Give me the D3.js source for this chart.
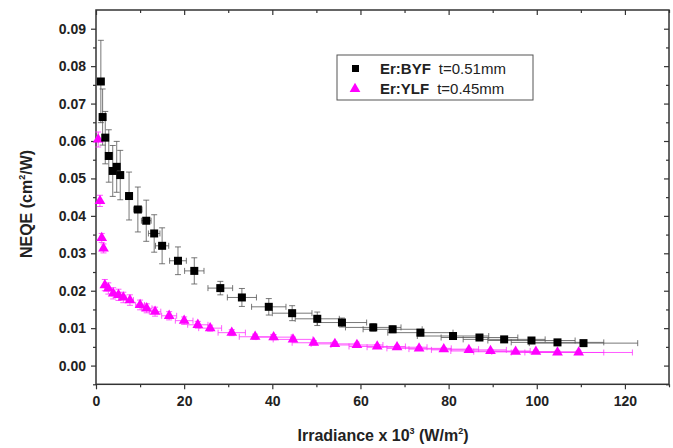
<!DOCTYPE html>
<html>
<head>
<meta charset="utf-8">
<script src="https://cdn.jsdelivr.net/npm/d3@7"></script>
<style>
body { margin: 0; background: #fff; }
svg { display: block; font-family: "Liberation Sans", Arial, sans-serif; }
</style>
</head>
<body>
<svg id="chart" width="673" height="448"></svg>
<script>
// Er:BYF t=0.51mm (black squares)
var byfX = [1.1, 1.5, 2.1, 2.9, 3.8, 4.7, 5.5, 7.5, 9.5, 11.4, 13.2, 15, 18.6, 22.3, 28.2, 33.1, 39.2, 44.5, 50.2, 55.8, 62.9, 67.3, 73.6, 81, 87, 92.6, 98.8, 104.7, 110.6];
var byfY = [0.0759, 0.0664, 0.0609, 0.056, 0.052, 0.0531, 0.0509, 0.0453, 0.0417, 0.0387, 0.0353, 0.032, 0.028, 0.0253, 0.0207, 0.0182, 0.0157, 0.014, 0.0125, 0.0115, 0.0102, 0.0097, 0.0088, 0.0079, 0.0075, 0.007, 0.0067, 0.0062, 0.006];
var byfXErr = [0.1, 0.15, 0.2, 0.3, 0.4, 0.5, 0.55, 0.75, 0.95, 1.1, 1.3, 1.5, 1.9, 2.2, 2.8, 3.3, 3.9, 4.5, 5, 5.6, 6.3, 6.7, 7.4, 8.1, 8.7, 9.3, 9.9, 10.5, 12.3];
var byfYErr = [0.011, 0.0075, 0.007, 0.007, 0.0068, 0.0068, 0.0066, 0.0064, 0.006, 0.0055, 0.005, 0.0048, 0.0037, 0.0035, 0.0018, 0.0024, 0.0022, 0.002, 0.0018, 0.0012, 0.001, 0.0009, 0.0008, 0.0007, 0.0007, 0.0006, 0.0006, 0.0005, 0.0005];

// Er:YLF t=0.45mm (magenta triangles)
var ylfX = [0.5, 0.9, 1.3, 1.7, 2.0, 2.8, 3.9, 5.1, 6.2, 7.7, 10, 11.5, 13.4, 16.6, 20, 23.1, 25.9, 30.8, 36.1, 40.3, 44.7, 49.4, 54.2, 59.2, 63.8, 68.3, 73.3, 78.9, 84.6, 89.5, 95.2, 99.8, 104.7, 109.5];
var ylfY = [0.0604, 0.044, 0.0341, 0.0313, 0.0215, 0.0206, 0.0193, 0.0189, 0.0182, 0.0175, 0.0162, 0.0153, 0.0144, 0.0133, 0.012, 0.0109, 0.01, 0.0088, 0.0077, 0.0076, 0.007, 0.0061, 0.0058, 0.0055, 0.0051, 0.0049, 0.0046, 0.0044, 0.0042, 0.0039, 0.0037, 0.0037, 0.0035, 0.0035];
var ylfXErr = [0.05, 0.1, 0.15, 0.2, 0.2, 0.3, 0.4, 0.5, 0.6, 0.8, 1, 1.2, 1.3, 1.7, 2, 2.3, 2.6, 3.1, 3.6, 4, 4.5, 4.9, 5.4, 5.9, 6.4, 6.8, 7.3, 7.9, 8.5, 9, 9.5, 10, 10.5, 12.2];
var ylfYErr = [0.002, 0.0015, 0.0012, 0.0012, 0.0015, 0.0015, 0.0015, 0.0015, 0.0014, 0.0014, 0.0013, 0.0012, 0.0012, 0.0011, 0.001, 0.0009, 0.0008, 0.0008, 0.0007, 0.0007, 0.0006, 0.0006, 0.0005, 0.0005, 0.0005, 0.0005, 0.0004, 0.0004, 0.0004, 0.0004, 0.0004, 0.0004, 0.0004, 0.0004];

var xMajor = [0, 20, 40, 60, 80, 100, 120];
var xMinor = [10, 30, 50, 70, 90, 110, 130];
var yMajor = [0, 0.01, 0.02, 0.03, 0.04, 0.05, 0.06, 0.07, 0.08, 0.09];
var yMinor = [-0.005, 0.005, 0.015, 0.025, 0.035, 0.045, 0.055, 0.065, 0.075, 0.085];

var svg = d3.select("#chart");
var plotL = 96, plotR = 669, plotT = 10, plotB = 384.3;

var x = d3.scaleLinear().domain([0, 130]).range([plotL, plotR]);
var y = d3.scaleLinear().domain([-0.005, 0.095]).range([plotB, plotT]);

var axisColor = "#333";

function styleAxis(g) {
  g.select(".domain").remove();
  g.selectAll(".tick line").attr("stroke", axisColor).attr("stroke-width", 1.2);
  g.selectAll(".tick text").attr("fill", "#222").attr("font-size", 14).attr("font-weight", "bold")
      .attr("font-family", "Liberation Sans, Arial, sans-serif");
}

// bottom axis
svg.append("g").attr("transform", "translate(0," + plotB + ")")
    .call(d3.axisBottom(x).tickValues(xMajor).tickSize(5).tickPadding(7).tickFormat(d3.format("d")))
    .call(styleAxis);
svg.append("g").attr("transform", "translate(0," + plotB + ")")
    .call(d3.axisBottom(x).tickValues(xMinor).tickSize(3).tickFormat(""))
    .call(styleAxis);
// top mirrored
svg.append("g").attr("transform", "translate(0," + plotT + ")")
    .call(d3.axisBottom(x).tickValues(xMajor).tickSize(5).tickFormat(""))
    .call(styleAxis);
svg.append("g").attr("transform", "translate(0," + plotT + ")")
    .call(d3.axisBottom(x).tickValues(xMinor).tickSize(3).tickFormat(""))
    .call(styleAxis);

// left axis
svg.append("g").attr("transform", "translate(" + plotL + ",0)")
    .call(d3.axisLeft(y).tickValues(yMajor).tickSize(5).tickPadding(5).tickFormat(d3.format(".2f")))
    .call(styleAxis);
svg.append("g").attr("transform", "translate(" + plotL + ",0)")
    .call(d3.axisLeft(y).tickValues(yMinor).tickSize(3).tickFormat(""))
    .call(styleAxis);
// right mirrored
svg.append("g").attr("transform", "translate(" + plotR + ",0)")
    .call(d3.axisLeft(y).tickValues(yMajor).tickSize(5).tickFormat(""))
    .call(styleAxis);
svg.append("g").attr("transform", "translate(" + plotR + ",0)")
    .call(d3.axisLeft(y).tickValues(yMinor).tickSize(3).tickFormat(""))
    .call(styleAxis);

// frame
svg.append("rect")
    .attr("x", plotL).attr("y", plotT)
    .attr("width", plotR - plotL).attr("height", plotB - plotT)
    .attr("fill", "none").attr("stroke", axisColor).attr("stroke-width", 1.5);

function buildData(xs, ys, xe, ye) {
  return xs.map(function(d, i) { return {x: d, y: ys[i], xe: xe[i], ye: ye[i]}; });
}

var byf = buildData(byfX, byfY, byfXErr, byfYErr);
var ylf = buildData(ylfX, ylfY, ylfXErr, ylfYErr);

function drawErrors(data, color, width) {
  var g = svg.append("g").attr("stroke", color).attr("stroke-width", width).attr("fill", "none");
  var cap = 3;
  data.forEach(function(d) {
    var cx = x(d.x), cy = y(d.y);
    var y1 = y(d.y + d.ye), y2 = y(d.y - d.ye);
    var x1 = Math.max(plotL, x(d.x - d.xe)), x2 = x(d.x + d.xe);
    g.append("line").attr("x1", cx).attr("x2", cx).attr("y1", y1).attr("y2", y2);
    g.append("line").attr("x1", cx - cap).attr("x2", cx + cap).attr("y1", y1).attr("y2", y1);
    g.append("line").attr("x1", cx - cap).attr("x2", cx + cap).attr("y1", y2).attr("y2", y2);
    g.append("line").attr("x1", x1).attr("x2", x2).attr("y1", cy).attr("y2", cy);
    g.append("line").attr("x1", x1).attr("x2", x1).attr("y1", cy - cap).attr("y2", cy + cap);
    g.append("line").attr("x1", x2).attr("x2", x2).attr("y1", cy - cap).attr("y2", cy + cap);
  });
}

drawErrors(ylf, "#ff33ff", 0.8);
drawErrors(byf, "#555", 0.8);

var triangle = d3.symbol().type(d3.symbolTriangle).size(50);
svg.append("g").selectAll("path")
    .data(ylf)
    .join("path")
    .attr("transform", function(d) { return "translate(" + x(d.x) + "," + y(d.y) + ")"; })
    .attr("d", triangle)
    .attr("fill", "#ff00ff");

var sq = 8;
svg.append("g").selectAll("rect")
    .data(byf)
    .join("rect")
    .attr("x", function(d) { return x(d.x) - sq / 2; })
    .attr("y", function(d) { return y(d.y) - sq / 2; })
    .attr("width", sq).attr("height", sq)
    .attr("fill", "#000");

// legend
var lg = svg.append("g");
lg.append("rect").attr("x", 337).attr("y", 55).attr("width", 196).attr("height", 45)
    .attr("fill", "#fff").attr("stroke", "#555").attr("stroke-width", 1);
lg.append("rect").attr("x", 352).attr("y", 65).attr("width", 7).attr("height", 7).attr("fill", "#000");
lg.append("path").attr("transform", "translate(355,89)").attr("d", triangle).attr("fill", "#ff00ff");
var t1 = lg.append("text").attr("x", 380).attr("y", 74).attr("font-size", 15).attr("fill", "#222");
t1.append("tspan").attr("font-weight", "bold").text("Er:BYF");
t1.append("tspan").attr("dx", 8).text("t=0.51mm");
var t2 = lg.append("text").attr("x", 380).attr("y", 94).attr("font-size", 15).attr("fill", "#222");
t2.append("tspan").attr("font-weight", "bold").text("Er:YLF");
t2.append("tspan").attr("dx", 8).text("t=0.45mm");

// axis titles
var xt = svg.append("text").attr("x", 383).attr("y", 441).attr("text-anchor", "middle")
    .attr("font-size", 16).attr("font-weight", "bold").attr("fill", "#222");
xt.append("tspan").text("Irradiance x 10");
xt.append("tspan").attr("dy", -7).attr("font-size", 9).text("3");
xt.append("tspan").attr("dy", 7).text(" (W/m");
xt.append("tspan").attr("dy", -7).attr("font-size", 9).text("2");
xt.append("tspan").attr("dy", 7).text(")");

var yt = svg.append("text").attr("transform", "translate(32,204) rotate(-90)").attr("text-anchor", "middle")
    .attr("font-size", 16).attr("font-weight", "bold").attr("fill", "#222");
yt.append("tspan").text("NEQE (cm");
yt.append("tspan").attr("dy", -7).attr("font-size", 9).text("2");
yt.append("tspan").attr("dy", 7).text("/W)");
</script>
</body>
</html>
